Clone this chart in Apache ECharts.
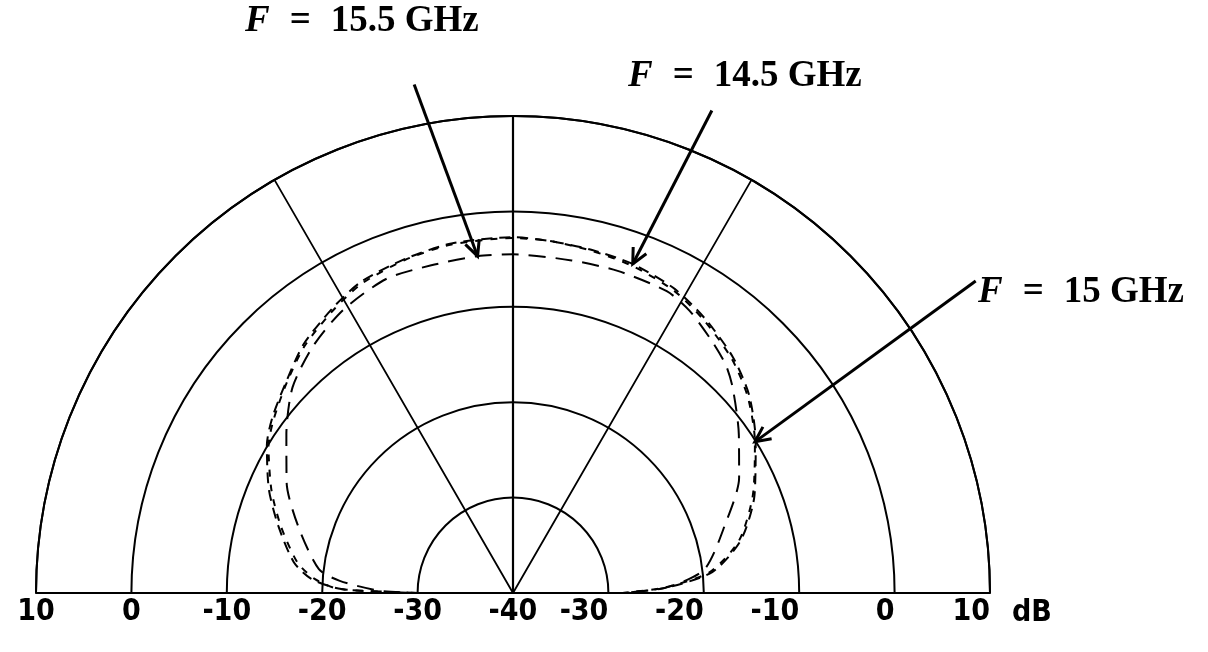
<!DOCTYPE html>
<html>
<head>
<meta charset="utf-8">
<script src="https://cdn.jsdelivr.net/npm/echarts@6/dist/echarts.min.js"></script>
<style>
  html, body { margin: 0; padding: 0; background: #fff; }
  #chart { width: 1208px; height: 652px; }
</style>
</head>
<body>
<div id="chart"></div>
<script>
// Radial scale in dB: the centre is -40 dB, the outer ring +10 dB
const RING_MIN = -40;
const RING_MAX = 10;
const RING_STEP = 10;

// Level labels printed under the diameter, from the left edge to the right edge
const baseLabels = ['10', '0', '-10', '-20', '-30', '-40', '-30', '-20', '-10', '0', '10'];
const baseUnit = 'dB';

// Radiation patterns: [angle from broadside in degrees (negative = left), level in dB]
const pattern145 = [
  [-90, -30], [-89.5, -27], [-88.7, -22], [-86, -18.8], [-82, -16.8], [-74, -14.4],
  [-67, -12.2], [-59, -9.9], [-54, -8.8], [-47, -7.5], [-40, -5.9], [-32, -4.6],
  [-26, -3.7], [-18, -3.2], [-10, -2.8], [0, -2.7], [6, -2.9], [13, -3.1],
  [20, -3.3], [28, -3.9], [35, -4.9], [43, -6.2], [50, -7.7], [58, -10],
  [68, -12.7], [77, -15.5], [84, -19], [88, -23.9], [90, -28.5]
];
const pattern15 = [
  [-90, -30], [-89.5, -26.5], [-88.5, -21.5], [-86, -19.2], [-82, -17.2], [-74, -14.7],
  [-67, -12.5], [-59, -10.1], [-54, -9.0], [-47, -7.6], [-40, -6.1], [-32, -4.8],
  [-26, -3.9], [-18, -3.3], [-10, -2.9], [0, -2.8], [6, -2.9], [13, -3.2],
  [20, -3.5], [28, -4.1], [35, -5.1], [43, -6.4], [50, -7.9], [58, -10.1],
  [68, -12.9], [77, -15.7], [84, -19.3], [88, -24.2], [90, -28.5]
];
const pattern155 = [
  [-90, -30], [-89, -26], [-86, -21.8], [-83, -19.5], [-73, -16.5], [-64, -13.6],
  [-55, -11], [-47, -8.4], [-39, -6.7], [-31, -5.4], [-22, -4.5], [-14, -4.6],
  [-6, -4.5], [0, -4.5], [10, -4.6], [18, -4.5], [27, -4.5], [32, -5.1],
  [38, -6.3], [43, -7.3], [47, -8.5], [55, -11.1], [63, -13.4], [72, -16.6],
  [83, -19.8], [88, -24], [90, -28.8]
];

// Curve captions: frequency text, arrow tail [dB, degrees], index of the pattern point the arrow hits
const captions = [
  { text: '15.5 GHz', series: 2, tail: [14.3, -11], hit: 12 },
  { text: '14.5 GHz', series: 0, tail: [14.7, 22.4], hit: 18 },
  { text: '15 GHz',   series: 1, tail: [18.5, 56],   hit: 23 }
];

// Plot geometry
const CX = 513, CY = 593, R = 477;

const ink = '#000';
const labelFont = {
  color: ink, fontSize: 30, fontWeight: 'bold',
  fontFamily: "'Liberation Sans Narrow', 'DejaVu Sans Condensed', 'Liberation Sans', sans-serif"
};

const toPolar = (pts) => pts.map(p => [p[1], p[0]]);

function curve(name, pts, dash, idx) {
  return {
    name: name,
    type: 'line',
    coordinateSystem: 'polar',
    polarIndex: 0,
    data: toPolar(pts),
    showSymbol: false,
    smooth: 0.25,
    z: 5 + idx,
    lineStyle: { color: ink, width: 2, type: dash, dashOffset: idx * 5 },
    silent: true
  };
}

const seriesList = [
  curve('14.5 GHz', pattern145, [11, 7], 0),
  curve('15 GHz', pattern15, [7, 8], 1),
  curve('15.5 GHz', pattern155, [17, 10], 2)
];

const option = {
  backgroundColor: '#fff',
  animation: false,
  polar: [
    { center: [CX, CY], radius: R },
    { center: [CX, CY], radius: R }
  ],
  angleAxis: [
    {
      // left half -> top -> right half, 0 = broadside; draws outer arc and vertical spoke
      polarIndex: 0, type: 'value', startAngle: 180, endAngle: 0, clockwise: true,
      min: -90, max: 90, interval: 90,
      axisLine: { show: true, lineStyle: { color: ink, width: 2 } },
      axisTick: { show: false }, axisLabel: { show: false },
      splitLine: { show: true, lineStyle: { color: ink, width: 2.2 } }
    },
    {
      // spokes at 30 degrees either side of broadside
      polarIndex: 1, type: 'value', startAngle: 0, endAngle: 180, clockwise: false,
      min: 0, max: 180, interval: 60,
      axisLine: { show: false }, axisTick: { show: false }, axisLabel: { show: false },
      splitLine: { show: true, lineStyle: { color: ink, width: 1.8 } }
    }
  ],
  radiusAxis: [
    {
      polarIndex: 0, type: 'value', min: RING_MIN, max: RING_MAX, interval: RING_STEP,
      axisLine: { show: true, lineStyle: { color: ink, width: 2.2 } },
      axisTick: { show: false }, axisLabel: { show: false },
      splitLine: { show: true, lineStyle: { color: ink, width: 2 } }
    },
    {
      polarIndex: 1, type: 'value', min: RING_MIN, max: RING_MAX, interval: RING_STEP,
      axisLine: { show: true, lineStyle: { color: ink, width: 2.2 } },
      axisTick: { show: false }, axisLabel: { show: false },
      splitLine: { show: false }
    }
  ],
  // strip along the diameter that carries the level labels
  grid: [{ left: CX - R, width: 2 * R, top: CY - 10, height: 10 }],
  xAxis: [
    {
      type: 'category', data: baseLabels, boundaryGap: false, position: 'bottom',
      axisLine: { show: false }, axisTick: { show: false }, splitLine: { show: false },
      axisLabel: Object.assign({
        interval: 0, margin: 4, align: 'center',
        formatter: (v, i) => (i <= 5 ? v : '')
      }, labelFont)
    },
    {
      type: 'category', data: baseLabels, boundaryGap: false, position: 'bottom',
      axisLine: { show: false }, axisTick: { show: false }, splitLine: { show: false },
      axisLabel: Object.assign({
        interval: 0, margin: 4, align: 'right',
        formatter: (v, i) => (i > 5 ? v : '')
      }, labelFont),
      name: baseUnit, nameLocation: 'end', nameGap: 22,
      nameTextStyle: Object.assign({ verticalAlign: 'top', align: 'left', padding: [5, 0, 0, 0] }, labelFont)
    }
  ],
  yAxis: [{ type: 'value', show: false }],
  series: seriesList
};

const chart = echarts.init(document.getElementById('chart'), null, { renderer: 'canvas' });
chart.setOption(option);

// Captions with arrows, placed through the polar coordinate system
const capFont = { fontFamily: "'Liberation Serif', 'DejaVu Serif', serif", fontWeight: 'bold', fontSize: 37 };
const capPos = [[245, 3], [628, 58], [978, 274]];
const graphics = [];
captions.forEach((c, k) => {
  const pts = [pattern145, pattern15, pattern155][c.series];
  const hitPt = pts[c.hit];
  const tail = chart.convertToPixel({ seriesIndex: c.series }, [c.tail[0], c.tail[1]]);
  const tip = chart.convertToPixel({ seriesIndex: c.series }, [hitPt[1], hitPt[0]]);
  const ang = Math.atan2(tail[1] - tip[1], tail[0] - tip[0]);
  const hl = 17, spread = 0.45;
  graphics.push({
    type: 'line', silent: true, z: 20,
    shape: { x1: tail[0], y1: tail[1], x2: tip[0], y2: tip[1] },
    style: { stroke: ink, lineWidth: 3 }
  });
  graphics.push({
    type: 'polyline', silent: true, z: 20,
    shape: { points: [
      [tip[0] + hl * Math.cos(ang + spread), tip[1] + hl * Math.sin(ang + spread)],
      [tip[0], tip[1]],
      [tip[0] + hl * Math.cos(ang - spread), tip[1] + hl * Math.sin(ang - spread)]
    ] },
    style: { stroke: ink, lineWidth: 3, fill: null }
  });
  graphics.push({
    type: 'text', silent: true, z: 20,
    left: capPos[k][0], top: capPos[k][1],
    style: Object.assign({
      text: '{f|F}{eq|=}' + c.text,
      fill: ink,
      rich: {
        f: Object.assign({ fontStyle: 'italic' }, capFont),
        eq: Object.assign({ padding: [0, 20, 0, 20] }, capFont)
      }
    }, capFont)
  });
});
chart.setOption({ graphic: graphics });
</script>
</body>
</html>
